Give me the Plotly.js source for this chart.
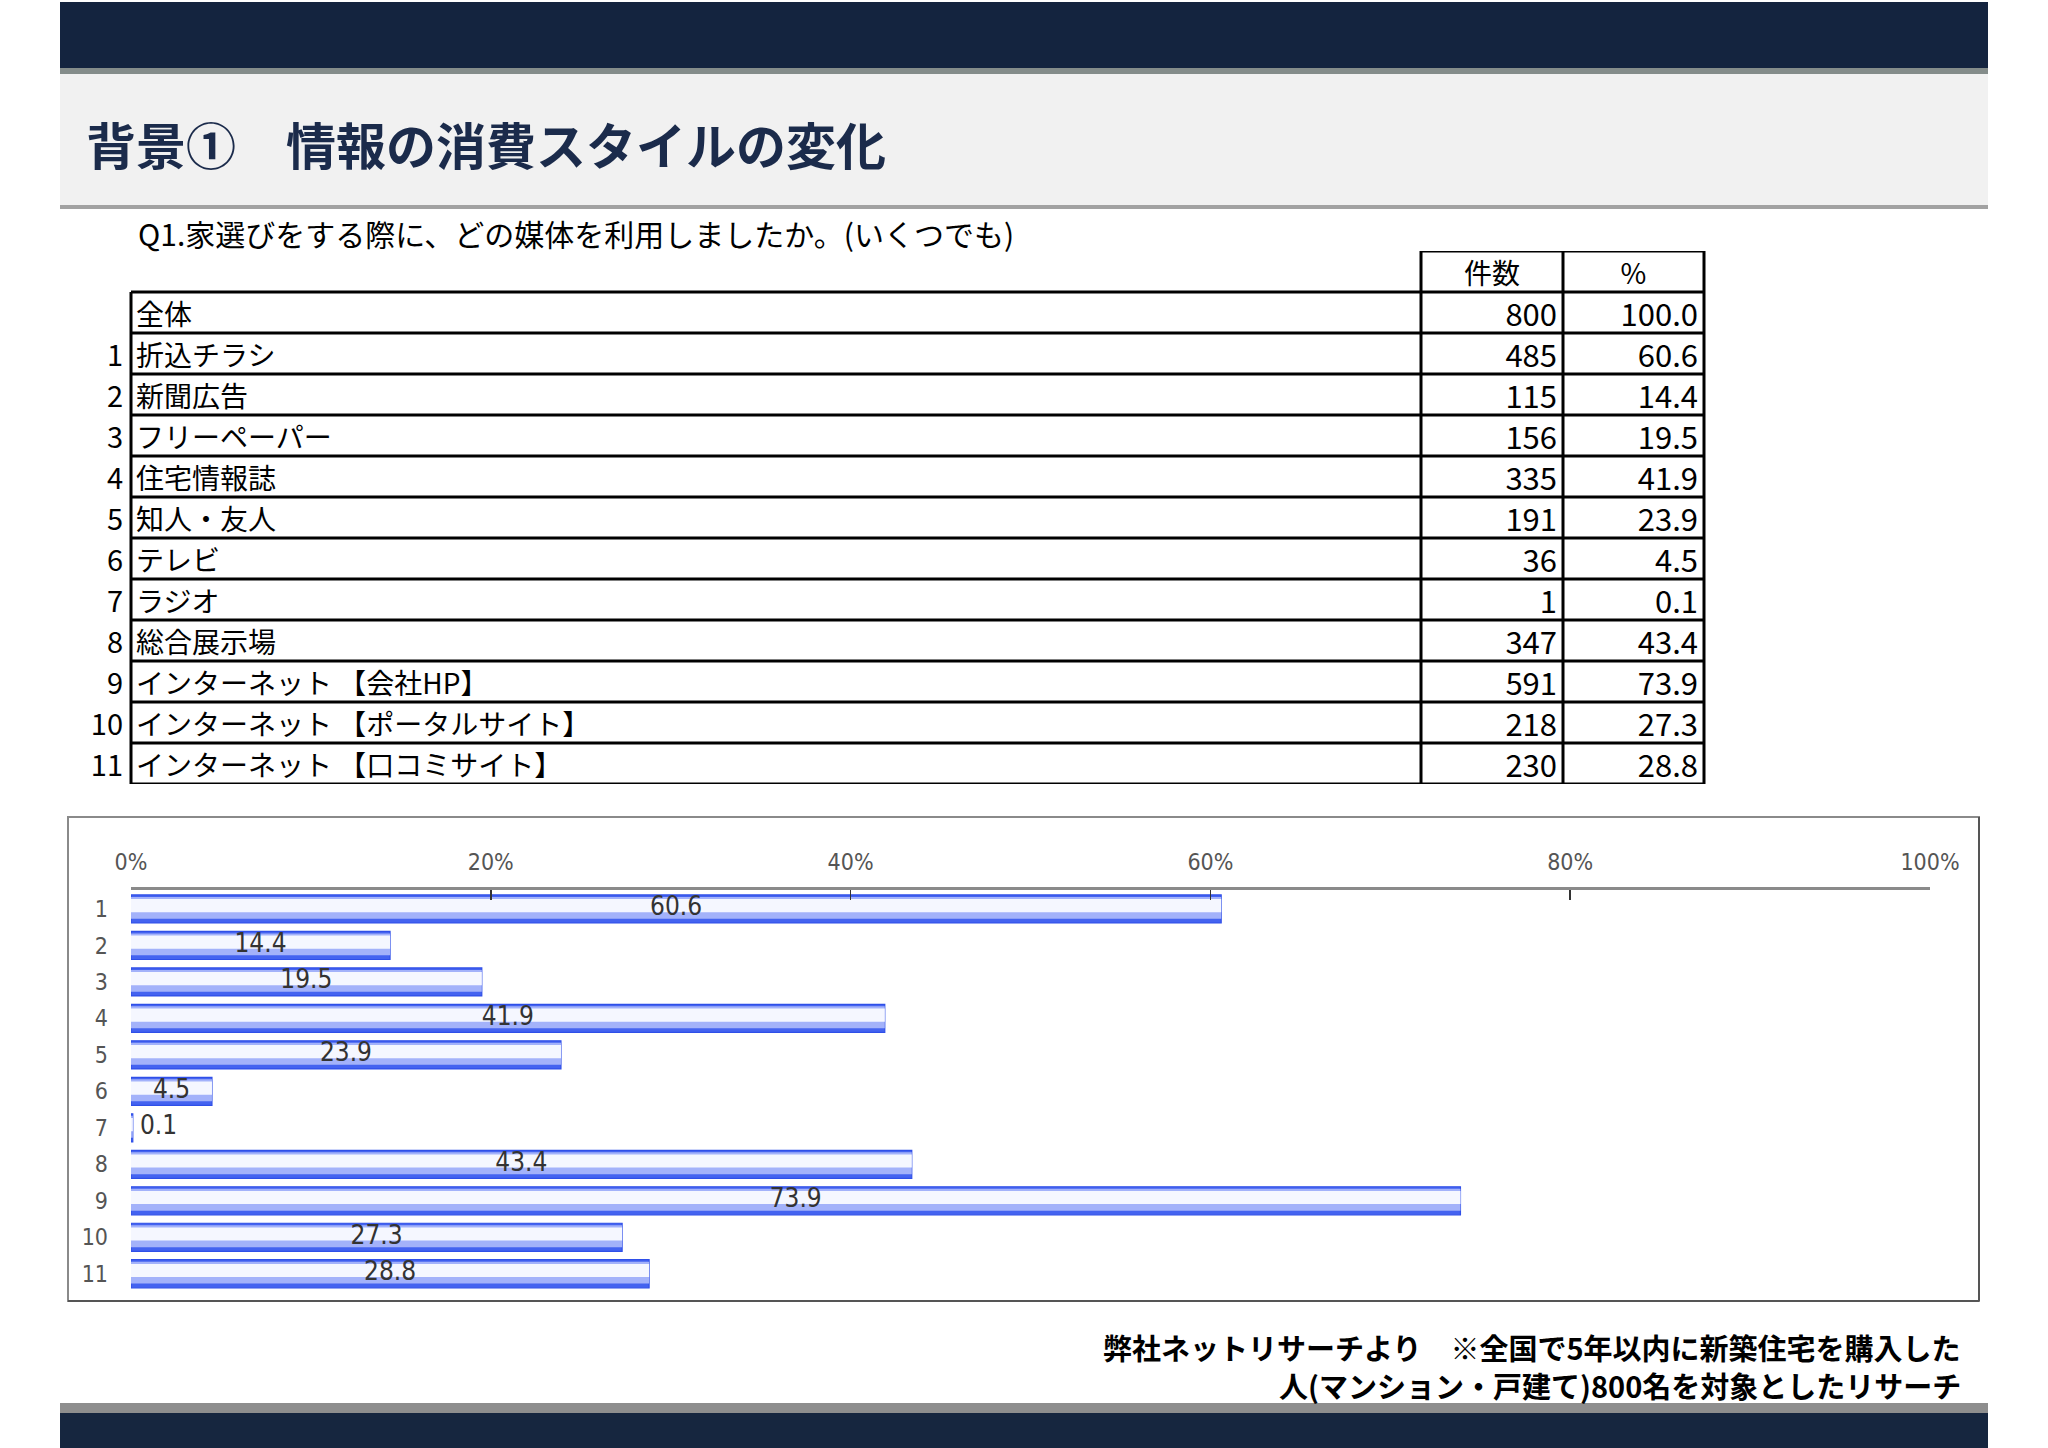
<!DOCTYPE html>
<html>
<head>
<meta charset="utf-8">
<script src="https://cdn.plot.ly/plotly-3.0.1.min.js"></script>
<style>
html,body{margin:0;padding:0;background:#ffffff;}
#chart{width:2048px;height:1448px;}
</style>
</head>
<body>
<div id="chart"></div>
<script>
// ---------- DATA ----------
const pageTitle = '背景①　情報の消費スタイルの変化';
const question = 'Q1.家選びをする際に、どの媒体を利用しましたか。(いくつでも)';
const headerCols = ['件数', '%'];
const totalLabel = '全体';
const totalCount = 800;
const totalPct = 100.0;
const categories = ['折込チラシ', '新聞広告', 'フリーペーパー', '住宅情報誌', '知人・友人', 'テレビ', 'ラジオ', '総合展示場',
  'インターネット 【会社HP】', 'インターネット 【ポータルサイト】', 'インターネット 【口コミサイト】'];
const counts = [485, 115, 156, 335, 191, 36, 1, 347, 591, 218, 230];
const percents = [60.6, 14.4, 19.5, 41.9, 23.9, 4.5, 0.1, 43.4, 73.9, 27.3, 28.8];
const rowNumbers = ['1', '2', '3', '4', '5', '6', '7', '8', '9', '10', '11'];
const xTicks = [0, 20, 40, 60, 80, 100];
const footerLines = ['弊社ネットリサーチより　※全国で5年以内に新築住宅を購入した', '人(マンション・戸建て)800名を対象としたリサーチ'];

// ---------- LAYOUT HELPERS ----------
const W = 2048, H = 1448;
const px = x => x / W;
const py = y => 1 - y / H;
const JP = '"Noto Sans CJK JP", "Noto Sans", sans-serif';
const COND = '"DejaVu Sans Condensed", "Liberation Sans Narrow", "Liberation Sans", sans-serif';

// table geometry (pixels)
const colLeft = 131, colCount = 1421, colPct = 1563, colRight = 1704;
const textDrop = 0.13;

const traces = [];

// ---------- BAR CHART (layered to imitate the glossy gradient) ----------
const layers = [
  {w: 0.77, off: -0.385, c: '#4463f0', lc: '#2f4fe8', lw: 1.2},
  {w: 0.60, off: -0.33, c: '#a3b2fa', lc: 'rgba(0,0,0,0)', lw: 0},
  {w: 0.36, off: -0.27, c: '#f5f7ff', lc: 'rgba(0,0,0,0)', lw: 0}
];
layers.forEach(L => {
  traces.push({
    type: 'bar', orientation: 'h',
    x: percents, y: rowNumbers,
    xaxis: 'x', yaxis: 'y',
    width: L.w, offset: L.off,
    marker: {color: L.c, line: {color: L.lc, width: L.lw}},
    hoverinfo: 'skip', showlegend: false
  });
});
// value labels
traces.push({
  type: 'scatter', mode: 'text',
  x: percents.map(v => v >= 1 ? v / 2 : v + 0.4),
  y: rowNumbers,
  text: percents.map(v => v.toFixed(1)),
  textposition: percents.map(v => v >= 1 ? 'middle center' : 'middle right'),
  textfont: {family: COND, size: 26, color: '#333333'},
  xaxis: 'x', yaxis: 'y', cliponaxis: false,
  hoverinfo: 'skip', showlegend: false
});

// ---------- TABLE (text) ----------
const rowsY = categories.map((_, i) => i + 1);
// labels
traces.push({
  type: 'scatter', mode: 'text',
  x: [totalLabel].concat(categories).map(() => colLeft + 5),
  y: [0].concat(rowsY).map(v => v + textDrop),
  text: [totalLabel].concat(categories),
  textposition: 'middle right',
  textfont: {family: JP, size: 28, color: '#000000'},
  xaxis: 'x2', yaxis: 'y2', cliponaxis: false, hoverinfo: 'skip', showlegend: false
});
// row numbers
traces.push({
  type: 'scatter', mode: 'text',
  x: rowNumbers.map(() => colLeft - 8),
  y: rowsY.map(v => v + textDrop),
  text: rowNumbers,
  textposition: 'middle left',
  textfont: {family: JP, size: 29, color: '#000000'},
  xaxis: 'x2', yaxis: 'y2', cliponaxis: false, hoverinfo: 'skip', showlegend: false
});
// counts
traces.push({
  type: 'scatter', mode: 'text',
  x: [totalCount].concat(counts).map(() => colPct - 6),
  y: [0].concat(rowsY).map(v => v + textDrop),
  text: [totalCount].concat(counts).map(String),
  textposition: 'middle left',
  textfont: {family: JP, size: 31, color: '#000000'},
  xaxis: 'x2', yaxis: 'y2', cliponaxis: false, hoverinfo: 'skip', showlegend: false
});
// percents
traces.push({
  type: 'scatter', mode: 'text',
  x: [totalPct].concat(percents).map(() => colRight - 6),
  y: [0].concat(rowsY).map(v => v + textDrop),
  text: [totalPct].concat(percents).map(v => v.toFixed(1)),
  textposition: 'middle left',
  textfont: {family: JP, size: 31, color: '#000000'},
  xaxis: 'x2', yaxis: 'y2', cliponaxis: false, hoverinfo: 'skip', showlegend: false
});
// header
traces.push({
  type: 'scatter', mode: 'text',
  x: [(colCount + colPct) / 2, (colPct + colRight) / 2],
  y: [-1 + textDrop, -1 + textDrop],
  text: headerCols,
  textposition: 'middle center',
  textfont: {family: JP, size: 28, color: '#000000'},
  xaxis: 'x2', yaxis: 'y2', cliponaxis: false, hoverinfo: 'skip', showlegend: false
});

// ---------- SHAPES ----------
const shapes = [];
// top navy band + gray line
shapes.push({type: 'rect', xref: 'paper', yref: 'paper', x0: px(60), x1: px(1988), y0: py(2), y1: py(68), fillcolor: '#14243f', line: {width: 0}, layer: 'below'});
shapes.push({type: 'rect', xref: 'paper', yref: 'paper', x0: px(60), x1: px(1988), y0: py(68), y1: py(74), fillcolor: '#848c8a', line: {width: 0}, layer: 'below'});
// title area
shapes.push({type: 'rect', xref: 'paper', yref: 'paper', x0: px(60), x1: px(1988), y0: py(74), y1: py(205), fillcolor: '#f1f1f1', line: {width: 0}, layer: 'below'});
shapes.push({type: 'rect', xref: 'paper', yref: 'paper', x0: px(60), x1: px(1988), y0: py(205), y1: py(209), fillcolor: '#a2a2a2', line: {width: 0}, layer: 'below'});
// bottom band
shapes.push({type: 'rect', xref: 'paper', yref: 'paper', x0: px(60), x1: px(1988), y0: py(1403), y1: py(1413), fillcolor: '#8e8e8e', line: {width: 0}, layer: 'below'});
shapes.push({type: 'rect', xref: 'paper', yref: 'paper', x0: px(60), x1: px(1988), y0: py(1413), y1: py(1448), fillcolor: '#16263f', line: {width: 0}, layer: 'below'});
// chart frame
shapes.push({type: 'rect', xref: 'paper', yref: 'paper', x0: px(68), x1: px(1979), y0: py(817), y1: py(1301), fillcolor: 'rgba(0,0,0,0)', line: {color: '#8a8a8a', width: 2}, layer: 'below'});
shapes.push({type: 'line', xref: 'paper', yref: 'paper', x0: px(1979), x1: px(1979), y0: py(817), y1: py(1301), line: {color: '#555555', width: 2}});
shapes.push({type: 'line', xref: 'paper', yref: 'paper', x0: px(68), x1: px(1979), y0: py(1301), y1: py(1301), line: {color: '#555555', width: 2}});

// table grid
const nRows = categories.length + 1; // incl. total
const tl = {color: '#000000', width: 3};
for (let r = 0; r <= nRows; r++) {
  shapes.push({type: 'line', xref: 'x2', yref: 'y2', x0: colLeft, x1: colRight, y0: r - 0.5, y1: r - 0.5, line: tl});
}
shapes.push({type: 'line', xref: 'x2', yref: 'y2', x0: colCount, x1: colRight, y0: -1.5, y1: -1.5, line: tl});
shapes.push({type: 'line', xref: 'x2', yref: 'y2', x0: colLeft, x1: colLeft, y0: -0.5, y1: nRows - 0.5, line: tl});
[colCount, colPct, colRight].forEach(cx => {
  shapes.push({type: 'line', xref: 'x2', yref: 'y2', x0: cx, x1: cx, y0: -1.5, y1: nRows - 0.5, line: tl});
});

// ---------- ANNOTATIONS ----------
const annotations = [
  {xref: 'paper', yref: 'paper', x: px(84), y: py(143), xanchor: 'left', yanchor: 'middle', showarrow: false,
   text: '<b>' + pageTitle + '</b>', font: {family: JP, size: 50, color: '#1b2b4b'}},
  {xref: 'paper', yref: 'paper', x: px(136), y: py(233), xanchor: 'left', yanchor: 'middle', showarrow: false,
   text: question, font: {family: JP, size: 30, color: '#000000'}},
  {xref: 'paper', yref: 'paper', x: px(1963), y: py(1347), xanchor: 'right', yanchor: 'middle', showarrow: false,
   text: '<b>' + footerLines[0] + '</b>', font: {family: JP, size: 29, color: '#000000'}},
  {xref: 'paper', yref: 'paper', x: px(1963), y: py(1385), xanchor: 'right', yanchor: 'middle', showarrow: false,
   text: '<b>' + footerLines[1] + '</b>', font: {family: JP, size: 29, color: '#000000'}}
];

const layout = {
  width: W, height: H,
  margin: {l: 0, r: 0, t: 0, b: 0, pad: 0},
  paper_bgcolor: '#ffffff', plot_bgcolor: 'rgba(0,0,0,0)',
  showlegend: false,
  barmode: 'overlay',
  xaxis: {
    domain: [px(131), px(1930)], range: [0, 100], side: 'top', anchor: 'y',
    tickvals: xTicks, ticktext: xTicks.map(v => v + '%'),
    showline: true, linecolor: '#8a8a8a', linewidth: 3,
    ticks: 'inside', ticklen: 10, tickwidth: 1.5, tickcolor: '#333333',
    ticklabelstandoff: 8,
    tickfont: {family: COND, size: 23, color: '#555555'},
    showgrid: false, zeroline: false, fixedrange: true
  },
  yaxis: {
    domain: [py(1292), py(890)], type: 'category', range: [10.5, -0.52], anchor: 'x',
    showline: false, ticks: '', showgrid: false, zeroline: false,
    ticklabelstandoff: 22,
    tickfont: {family: COND, size: 23, color: '#555555'}, fixedrange: true
  },
  xaxis2: {domain: [0, 1], range: [0, W], anchor: 'y2', visible: false, fixedrange: true},
  yaxis2: {domain: [py(784), py(251)], range: [nRows - 0.5, -1.5], anchor: 'x2', visible: false, fixedrange: true},
  shapes: shapes,
  annotations: annotations
};

Plotly.newPlot('chart', traces, layout, {staticPlot: true, displayModeBar: false});
</script>
</body>
</html>
